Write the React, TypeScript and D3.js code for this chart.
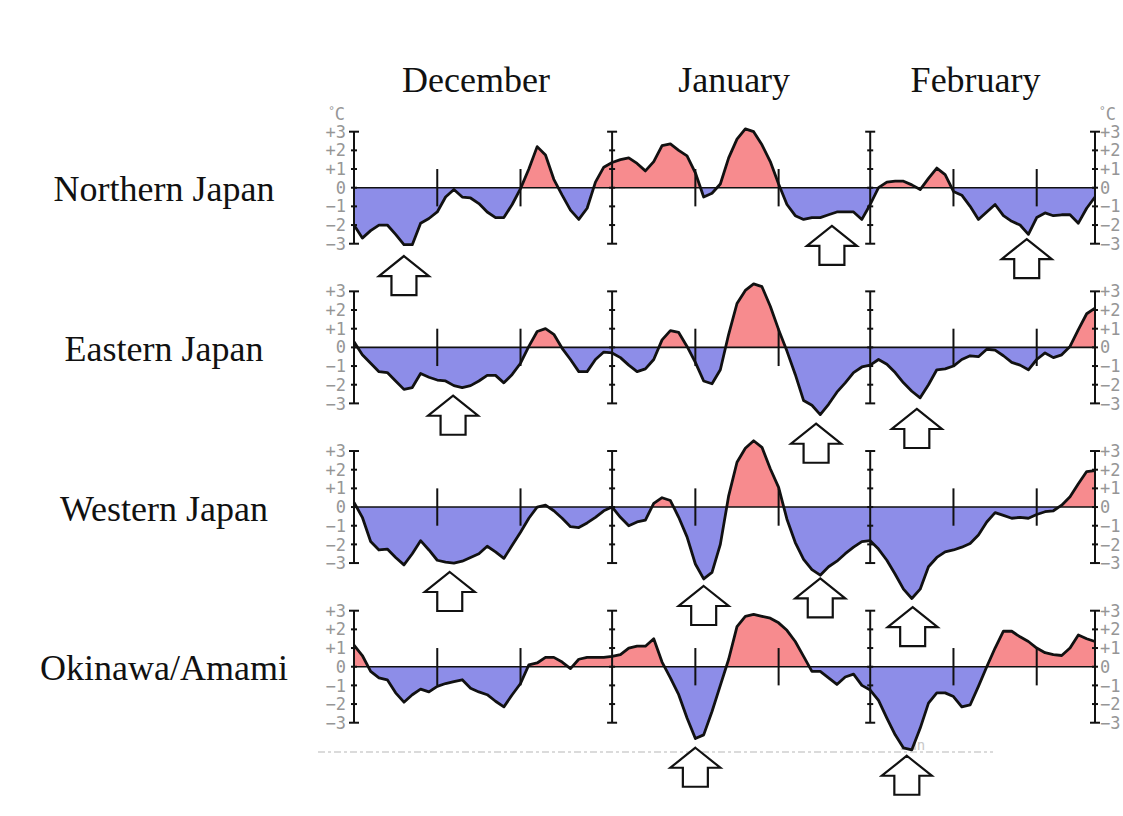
import React from "react";
import * as d3 from "d3";

// Day index 0 = Dec 1 ... 89 = Feb 28 (5-day running mean temperature anomaly, °C)
const months = ["December", "January", "February"];
const monthMid = [15.5, 46.5, 75.5];
const monthStarts = [0, 31, 62, 89];
const minorTickDays = [10, 20, 41, 51, 72, 82];
const tickValues = [3, 2, 1, 0, -1, -2, -3];
const tickLabels = ["+3", "+2", "+1", "0", "\u22121", "\u22122", "\u22123"];
const regions = ["Northern Japan", "Eastern Japan", "Western Japan", "Okinawa/Amami"];

const northern = [
  -2.0, -2.7, -2.3, -2.0, -2.0, -2.5, -3.05, -3.05, -1.9, -1.65,
  -1.3, -0.5, -0.1, -0.5, -0.55, -0.85, -1.3, -1.6, -1.6, -0.9,
  -0.05, 1.0, 2.2, 1.75, 0.45, -0.4, -1.2, -1.7, -1.1, 0.3,
  1.1, 1.35, 1.5, 1.6, 1.3, 0.9, 1.4, 2.25, 2.35, 2.0,
  1.7, 0.8, -0.5, -0.3, 0.2, 1.6, 2.6, 3.15, 3.0, 2.3,
  1.4, 0.2, -0.9, -1.5, -1.7, -1.6, -1.6, -1.45, -1.3, -1.3,
  -1.3, -1.7, -0.9, 0.0, 0.3, 0.35, 0.35, 0.15, -0.1, 0.5,
  1.05, 0.7, -0.2, -0.4, -1.0, -1.7, -1.3, -0.9, -1.5, -1.8,
  -2.0, -2.5, -1.6, -1.35, -1.5, -1.45, -1.45, -1.9, -1.1, -0.5,
];

const eastern = [
  0.3, -0.4, -0.85, -1.3, -1.35, -1.8, -2.25, -2.15, -1.4, -1.6,
  -1.75, -1.8, -2.05, -2.15, -2.05, -1.8, -1.5, -1.5, -1.9, -1.45,
  -0.85, 0.05, 0.85, 1.0, 0.7, -0.05, -0.65, -1.3, -1.3, -0.65,
  -0.25, -0.3, -0.55, -0.95, -1.3, -1.15, -0.65, 0.4, 0.9, 0.8,
  0.05, -0.8, -1.8, -1.95, -1.2, 0.7, 2.35, 3.05, 3.4, 3.25,
  2.2, 0.95, -0.2, -1.45, -2.85, -3.1, -3.6, -3.05, -2.4, -1.9,
  -1.35, -1.05, -0.95, -0.65, -0.9, -1.35, -1.9, -2.35, -2.7, -2.0,
  -1.2, -1.15, -1.0, -0.65, -0.45, -0.5, -0.1, -0.15, -0.45, -0.8,
  -0.95, -1.2, -0.65, -0.3, -0.55, -0.4, 0.05, 0.95, 1.8, 2.1,
];

const western = [
  0.25, -0.55, -1.85, -2.3, -2.25, -2.7, -3.1, -2.5, -1.8, -2.3,
  -2.85, -2.95, -3.0, -2.9, -2.7, -2.5, -2.1, -2.4, -2.75, -2.05,
  -1.35, -0.6, 0.0, 0.1, -0.2, -0.6, -1.05, -1.1, -0.85, -0.55,
  -0.2, 0.0, -0.55, -1.0, -0.8, -0.7, 0.2, 0.5, 0.35, -0.55,
  -1.6, -3.05, -3.85, -3.5, -2.0, 0.6, 2.4, 3.15, 3.55, 3.2,
  2.05, 1.05, -0.65, -1.9, -2.8, -3.35, -3.65, -3.2, -2.9, -2.5,
  -2.15, -1.85, -1.8, -2.25, -2.85, -3.6, -4.4, -4.9, -4.4, -3.2,
  -2.7, -2.4, -2.3, -2.15, -1.95, -1.5, -0.8, -0.3, -0.45, -0.6,
  -0.55, -0.6, -0.4, -0.25, -0.2, 0.1, 0.55, 1.25, 1.9, 1.95,
];

const okinawa = [
  1.15, 0.6, -0.25, -0.6, -0.7, -1.4, -1.9, -1.5, -1.2, -1.35,
  -1.05, -0.9, -0.8, -0.7, -1.15, -1.35, -1.5, -1.85, -2.15, -1.5,
  -0.9, 0.1, 0.2, 0.5, 0.5, 0.25, -0.1, 0.4, 0.5, 0.5,
  0.5, 0.55, 0.65, 1.0, 1.1, 1.1, 1.5, 0.25, -0.6, -1.5,
  -2.75, -3.85, -3.65, -2.4, -1.0, 0.4, 2.15, 2.7, 2.8, 2.7,
  2.6, 2.35, 1.95, 1.35, 0.55, -0.25, -0.25, -0.6, -0.95, -0.55,
  -0.4, -1.0, -1.25, -1.8, -2.75, -3.65, -4.35, -4.45, -3.3, -1.95,
  -1.4, -1.4, -1.6, -2.15, -2.05, -1.05, 0.0, 1.0, 1.9, 1.9,
  1.6, 1.35, 1.0, 0.75, 0.65, 0.6, 1.0, 1.7, 1.5, 1.35,
];

const seriesList = [northern, eastern, western, okinawa];

// Arrow tips: [region, day, value]
const arrowRegion = [0, 0, 0, 1, 1, 1, 2, 2, 2, 2, 3, 3];
const arrowDay = [6.0, 57.4, 80.8, 11.9, 55.5, 67.6, 11.5, 42.0, 56.0, 67.1, 41.0, 66.4];
const arrowValue = [-3.66, -2.04, -2.75, -2.59, -4.09, -3.3, -3.48, -4.23, -3.82, -5.36, -4.34, -4.77];

const W = 1123;
const H = 816;
const x0 = 354;
const x1 = 1095;
const zero0 = 187.7;
const panelStep = 159.67;
const pxPerDeg = 18.67;

const RED = "#f78b8e";
const BLUE = "#8d8de8";
const GRAY = "#969696";

const x = d3.scaleLinear().domain([0, 89]).range([x0, x1]);

function yScale(i: number) {
  const z = zero0 + panelStep * i;
  return d3.scaleLinear().domain([-3, 3]).range([z + 3 * pxPerDeg, z - 3 * pxPerDeg]);
}

function Panel({ i }: { i: number }) {
  const y = yScale(i);
  const data = seriesList[i];
  const zy = y(0);
  const area = d3
    .area<number>()
    .x((_, k) => x(k))
    .y0(zy)
    .y1((d) => y(d));
  const line = d3
    .line<number>()
    .x((_, k) => x(k))
    .y((d) => y(d));
  const areaPath = area(data) || "";
  return (
    <g>
      <defs>
        <clipPath id={`above-${i}`}>
          <rect x={0} y={zy - 200} width={W} height={200} />
        </clipPath>
        <clipPath id={`below-${i}`}>
          <rect x={0} y={zy} width={W} height={200} />
        </clipPath>
      </defs>
      <path d={areaPath} fill={RED} clipPath={`url(#above-${i})`} />
      <path d={areaPath} fill={BLUE} clipPath={`url(#below-${i})`} />
      {monthStarts.map((d) => (
        <g key={`ax-${d}`}>
          <line x1={x(d)} x2={x(d)} y1={y(3)} y2={y(-3)} stroke="#111" strokeWidth={2} />
          {tickValues.map((v) => {
            const half = Math.abs(v) === 3 ? 5 : 3;
            return (
              <line
                key={v}
                x1={x(d) - half}
                x2={x(d) + half}
                y1={y(v)}
                y2={y(v)}
                stroke="#111"
                strokeWidth={2}
              />
            );
          })}
        </g>
      ))}
      {minorTickDays.map((d) => (
        <line key={`mt-${d}`} x1={x(d)} x2={x(d)} y1={y(1)} y2={y(-1)} stroke="#111" strokeWidth={2} />
      ))}
      <line x1={x(0)} x2={x(89)} y1={zy} y2={zy} stroke="#111" strokeWidth={1.6} />
      <path d={line(data) || ""} fill="none" stroke="#111" strokeWidth={2.8} strokeLinejoin="round" />
      {tickValues.map((v, k) => (
        <g key={`lb-${v}`}>
          <text
            x={x0 - 8}
            y={y(v)}
            dy="0.36em"
            textAnchor="end"
            fontFamily="DejaVu Sans Mono, monospace"
            fontSize={17}
            fill={GRAY}
          >
            {tickLabels[k]}
          </text>
          <text
            x={x1 + 5}
            y={y(v)}
            dy="0.36em"
            textAnchor="start"
            fontFamily="DejaVu Sans Mono, monospace"
            fontSize={17}
            fill={GRAY}
          >
            {tickLabels[k]}
          </text>
        </g>
      ))}
      {i === 0 && (
        <g fontFamily="DejaVu Sans Mono, monospace" fill={GRAY}>
          <text x={x0 - 9} y={y(3) - 12} textAnchor="end" fontSize={17}>
            <tspan fontSize={11} dy={-6}>°</tspan>
            <tspan dy={6}>C</tspan>
          </text>
          <text x={x1 + 4} y={y(3) - 12} textAnchor="start" fontSize={17}>
            <tspan fontSize={11} dy={-6}>°</tspan>
            <tspan dy={6}>C</tspan>
          </text>
        </g>
      )}
      <text
        x={164}
        y={zy + 13.5}
        textAnchor="middle"
        fontFamily="Liberation Serif, Times New Roman, serif"
        fontSize={36}
        fill="#111"
      >
        {regions[i]}
      </text>
    </g>
  );
}

function Arrow({ k }: { k: number }) {
  const y = yScale(arrowRegion[k]);
  const tx = x(arrowDay[k]);
  const ty = y(arrowValue[k]);
  const hw = 25;
  const hh = 20;
  const sw = 12.5;
  const sh = 19;
  const pts: [number, number][] = [
    [tx, ty],
    [tx + hw, ty + hh],
    [tx + sw, ty + hh],
    [tx + sw, ty + hh + sh],
    [tx - sw, ty + hh + sh],
    [tx - sw, ty + hh],
    [tx - hw, ty + hh],
  ];
  const d = (d3.line()(pts) || "") + "Z";
  return <path d={d} fill="#fff" stroke="#111" strokeWidth={2.2} strokeLinejoin="miter" />;
}

export default function App() {
  return (
    <svg
      width={W}
      height={H}
      viewBox={`0 0 ${W} ${H}`}
      style={{ position: "absolute", left: 0, top: 0, background: "#fff" }}
    >
      <rect x={0} y={0} width={W} height={H} fill="#fff" />
      <line x1={318} x2={993} y1={752} y2={752} stroke="#cfcfcf" strokeWidth={1.5} strokeDasharray="7 3 3 3" />
      <text x={900} y={750} fontFamily="DejaVu Sans Mono, monospace" fontSize={14} fill="#c8c8c8">
        Jan
      </text>
      {months.map((m, k) => (
        <text
          key={m}
          x={x(monthMid[k]) - 7}
          y={92}
          textAnchor="middle"
          fontFamily="Liberation Serif, Times New Roman, serif"
          fontSize={36}
          fill="#111"
        >
          {m}
        </text>
      ))}
      {seriesList.map((_, i) => (
        <Panel key={i} i={i} />
      ))}
      {arrowDay.map((_, k) => (
        <Arrow key={k} k={k} />
      ))}
    </svg>
  );
}
